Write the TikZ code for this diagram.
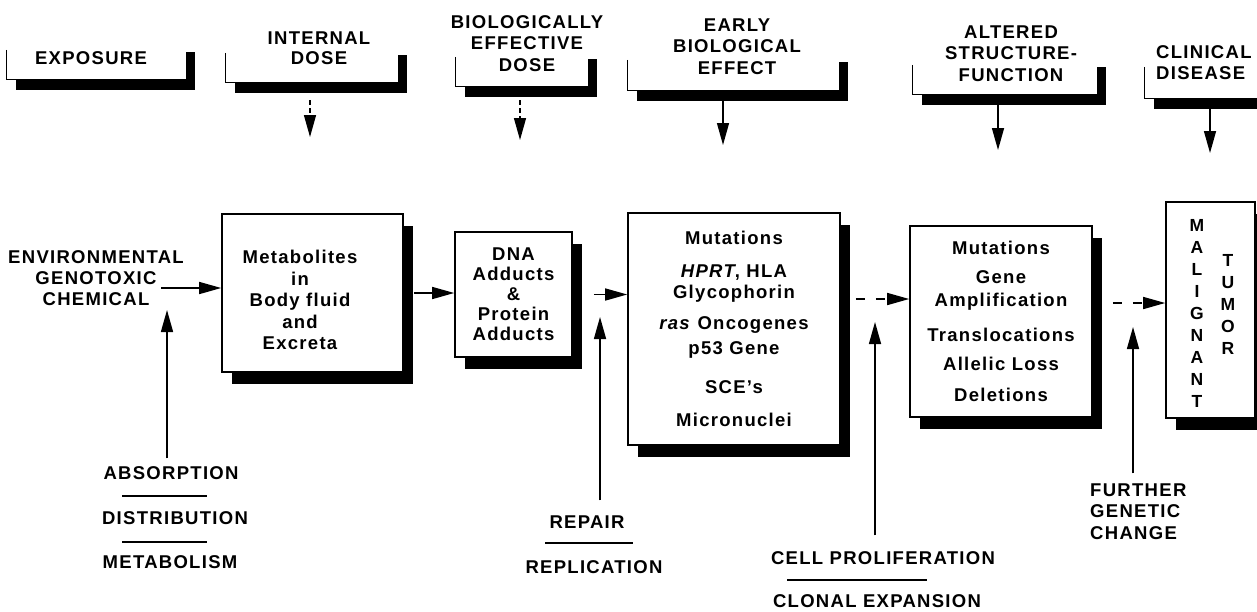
\documentclass[tikz,border=0pt]{standalone}
\usepackage{fontspec}
\setmainfont{Liberation Sans}[LetterSpace=7]
\usetikzlibrary{arrows.meta,shadows,calc}

\begin{document}
\begin{tikzpicture}[
        x=1pt, y=-1pt,
        >={Triangle[length=22pt,width=12pt]},
        font=\fontsize{18.5}{21}\selectfont\bfseries,
        % boxes of the main chain, solid shadow
        block/.style={
            rectangle,
            draw,
            fill=white,
            line width=1.6pt,
            inner sep=0pt,
            align=center,
            drop shadow={shadow xshift=10pt, shadow yshift=-12pt, opacity=1, fill=black}
        },
        % open frames under the stage titles
        stage/.style={
            rectangle,
            fill=white,
            inner sep=0pt,
            drop shadow={shadow xshift=9pt, shadow yshift=-11pt, opacity=1, fill=black}
        },
        frame_line/.style={line width=1.3pt},
        arrow_main/.style={->, line width=1.5pt},
        arrow_dash/.style={->, line width=1.5pt, dash pattern=on 9pt off 11pt},
        arrow_hdash/.style={->, line width=1.3pt, dash pattern=on 5pt off 3pt},
        label_text/.style={inner sep=2pt, align=center},
        sep_line/.style={line width=1.5pt}
    ]
    \useasboundingbox (0,0) rectangle (1257,611);

    % --- 1. stage titles ---
    \node (fexp) [stage, minimum width=179pt, minimum height=38pt] at (96.5,60) {};
    \node (fint) [stage, minimum width=172pt, minimum height=38pt] at (312,63) {};
    \node (fbio) [stage, minimum width=132pt, minimum height=38pt] at (522,67) {};
    \node (fear) [stage, minimum width=211pt, minimum height=39pt] at (733.5,70.5) {};
    \node (falt) [stage, minimum width=184pt, minimum height=38pt] at (1005,75) {};
    \node (fcli) [stage, minimum width=117pt, minimum height=40pt] at (1203.5,78) {};

    \draw[frame_line] ([yshift=-9pt]fexp.north west) -- (fexp.south west) -- (fexp.south east);
    \draw[frame_line] ([yshift=-9pt]fint.north west) -- (fint.south west) -- (fint.south east);
    \draw[frame_line] ([yshift=-9pt]fbio.north west) -- (fbio.south west) -- (fbio.south east);
    \draw[frame_line] ([yshift=-9pt]fear.north west) -- (fear.south west) -- (fear.south east);
    \draw[frame_line] ([yshift=-9pt]falt.north west) -- (falt.south west) -- (falt.south east);
    \draw[frame_line] ([yshift=-9pt]fcli.north west) -- (fcli.south west) -- (fcli.south east);

    \node (texp) [label_text] at (91,58) {EXPOSURE};
    \node (tint) [label_text, font=\fontsize{18.5}{20}\selectfont\bfseries] at (319,48) {INTERNAL\\DOSE};
    \node (tbio) [label_text, font=\fontsize{18.5}{21.5}\selectfont\bfseries] at (527,43.5) {BIOLOGICALLY\\EFFECTIVE\\DOSE};
    \node (tear) [label_text, font=\fontsize{18.5}{21.5}\selectfont\bfseries] at (737,46.5) {EARLY\\BIOLOGICAL\\EFFECT};
    \node (talt) [label_text, font=\fontsize{18.5}{21.5}\selectfont\bfseries] at (1011,53.5) {ALTERED\\STRUCTURE-\\FUNCTION};
    \node (tcli) [label_text, align=left, anchor=west] at (1154,62.5) {CLINICAL\\DISEASE};

    % arrows down from the stages
    \coordinate (dint) at (310,137);
    \coordinate (dbio) at (520,140);
    \coordinate (dear) at (723,145);
    \coordinate (dalt) at (998,150);
    \coordinate (dcli) at (1210,153);
    \draw[arrow_hdash] ($(fint.south -| dint)+(0,18)$) -- (dint);
    \draw[arrow_hdash] ($(fbio.south -| dbio)+(0,14)$) -- (dbio);
    \draw[arrow_main, line width=1.3pt] ($(fear.south -| dear)+(0,11)$) -- (dear);
    \draw[arrow_main] ($(falt.south -| dalt)+(0,11)$) -- (dalt);
    \draw[arrow_main] ($(fcli.south -| dcli)+(0,10)$) -- (dcli);

    % --- 2. main chain ---
    \node (env) [label_text] at (96,278) {ENVIRONMENTAL\\GENOTOXIC\\CHEMICAL};
    \coordinate (cenv) at (161,288);

    \node (metab) [block, minimum width=181pt, minimum height=158pt] at (312.5,293) {};
    \node (metabtxt) [label_text, font=\fontsize{18.5}{21.5}\selectfont\bfseries] at (300,300) {Metabolites\\in\\Body fluid\\and\\Excreta};

    \node (dna) [block, minimum width=117pt, minimum height=125pt, font=\fontsize{18.5}{20}\selectfont\bfseries] at (513.5,294.5) {
        DNA\\Adducts\\\&\\Protein\\Adducts
    };

    \node (mut) [block, minimum width=212pt, minimum height=232pt] at (734,329) {
        Mutations\\[12pt]
        \textit{HPRT}, HLA\\
        Glycophorin\\[10pt]
        \textit{ras} Oncogenes\\[4pt]
        p53 Gene\\[18pt]
        SCE's\\[12pt]
        Micronuclei
    };

    \node (alt) [block, minimum width=182pt, minimum height=191pt] at (1001,321.5) {
        Mutations\\[8pt]
        Gene\\[2pt]
        Amplification\\[14pt]
        Translocations\\[8pt]
        Allelic Loss\\[10pt]
        Deletions
    };

    \node (tumor) [block, minimum width=89pt, minimum height=216pt] at (1210.5,310) {};
    \node (mal) [label_text, font=\fontsize{17.5}{22.1}\selectfont\bfseries] at (1197,313.5) {M\\A\\L\\I\\G\\N\\A\\N\\T};
    \node (tum) [label_text, font=\fontsize{17.5}{22.2}\selectfont\bfseries] at (1228,304.5) {T\\U\\M\\O\\R};

    % left to right
    \draw[arrow_main] (cenv) -- (cenv -| metab.west);
    \draw[arrow_main] ([xshift=10pt]metab.east) -- (metab.east -| dna.west);
    \draw[arrow_main] ([xshift=21pt]dna.east) -- (dna.east -| mut.west);
    \coordinate (cmut) at ([xshift=15pt,yshift=30pt]mut.east);
    \draw[arrow_dash] (cmut) -- (cmut -| alt.west);
    \coordinate (calt) at ([xshift=20pt,yshift=18.5pt]alt.east);
    \draw[arrow_dash] (calt) -- (calt -| tumor.west);

    % --- 3. modifying factors from below ---
    \node (abs) [label_text] at (171,473) {ABSORPTION};
    \node (dist) [label_text] at (175,518) {DISTRIBUTION};
    \node (metabl) [label_text] at (170,562) {METABOLISM};
    \draw[sep_line] (122,496) -- (207,496);
    \draw[sep_line] (122,542) -- (207,542);

    \node (rep) [label_text] at (587,522) {REPAIR};
    \node (repl) [label_text] at (594,567) {REPLICATION};
    \draw[sep_line] (545,543) -- (633,543);

    \node (cell) [label_text] at (883,558) {CELL PROLIFERATION};
    \node (clon) [label_text] at (877,601) {CLONAL EXPANSION};
    \draw[sep_line] (787,580) -- (927,580);

    \node (further) [label_text, align=left, anchor=west, font=\fontsize{18.5}{21.5}\selectfont\bfseries] at (1088,511.5) {FURTHER\\GENETIC\\CHANGE};

    \coordinate (tabs) at (167,310);
    \coordinate (trep) at (600,317);
    \coordinate (tcell) at (875,322);
    \coordinate (tfur) at (1133,327);
    \draw[arrow_main] ($(abs.north -| tabs)+(0,-6)$) -- (tabs);
    \draw[arrow_main] ($(rep.north -| trep)+(0,-13)$) -- (trep);
    \draw[arrow_main] ($(cell.north -| tcell)+(0,-14)$) -- (tcell);
    \draw[arrow_main] ($(further.north -| tfur)+(0,-8)$) -- (tfur);

\end{tikzpicture}
\end{document}
